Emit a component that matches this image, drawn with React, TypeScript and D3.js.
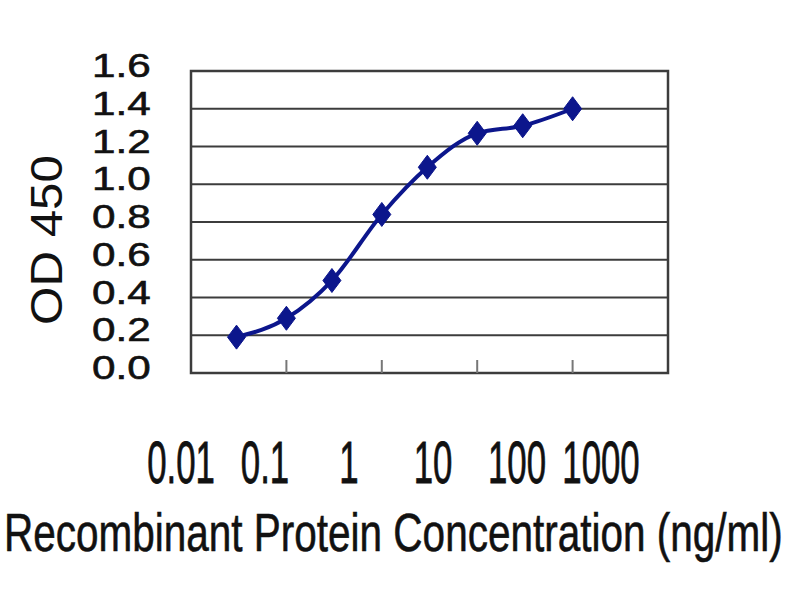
import React from "react";
import * as d3 from "d3";

// ELISA standard curve
const concentrations = [0.03, 0.1, 0.3, 1, 3, 10, 30, 100];
const od450 = [0.19, 0.29, 0.49, 0.84, 1.09, 1.27, 1.31, 1.4];
const yTicks = [0, 0.2, 0.4, 0.6, 0.8, 1.0, 1.2, 1.4, 1.6];
const xTicks = [0.1, 1, 10, 100];
const xTickLabels = [0.01, 0.1, 1, 10, 100, 1000];

const W = 800, H = 600;
const plot = { left: 191, right: 668, top: 71, bottom: 373 };
const font = "'Liberation Sans', Arial, sans-serif";
const navy = "#0c168c";
const grid = "#3c3c3c";

const App = () => {
    const x = d3.scaleLog().domain([0.01, 1000]).range([plot.left, plot.right]);
    const y = d3.scaleLinear().domain([0, 1.6]).range([plot.bottom, plot.top]);
    // the tick label row below the plot is spread on its own log scale
    const xl = d3.scaleLog().domain([0.01, 1000]).range([181, 601]);

    const pts = concentrations.map((c, i) => [x(c), y(od450[i])] as [number, number]);
    const line = d3.line().curve(d3.curveMonotoneX)(pts) || "";

    const diamond = (cx, cy) => `M${cx},${cy - 12}L${cx + 9},${cy}L${cx},${cy + 12}L${cx - 9},${cy}Z`;

    return (
        <svg width={W} height={H} style={{ position: "absolute", left: 0, top: 0, background: "#fff" }}>
            <rect x={plot.left} y={plot.top} width={plot.right - plot.left} height={plot.bottom - plot.top} fill="#fff" />
            {yTicks.map((t) => (
                <line key={"g" + t} x1={plot.left} x2={plot.right} y1={y(t)} y2={y(t)} stroke={grid} strokeWidth={2} />
            ))}
            <rect x={plot.left} y={plot.top} width={plot.right - plot.left} height={plot.bottom - plot.top}
                fill="none" stroke={grid} strokeWidth={2.5} />
            {xTicks.map((t) => (
                <line key={"t" + t} x1={x(t)} x2={x(t)} y1={plot.bottom} y2={plot.bottom - 13} stroke="#777" strokeWidth={2} />
            ))}

            <path d={line} fill="none" stroke={navy} strokeWidth={4} />
            {pts.map(([cx, cy], i) => (
                <path key={"p" + i} d={diamond(cx, cy)} fill={navy} stroke={navy} strokeWidth={1} />
            ))}

            {yTicks.map((t) => (
                <text key={"yl" + t} transform={`translate(92,${y(t) + 6}) scale(1.28,1)`} fontFamily={font} fontSize={33}
                    fill="#111" stroke="#111" strokeWidth={0.6}>
                    {t.toFixed(1)}
                </text>
            ))}

            {xTickLabels.map((t) => (
                <text key={"xl" + t} transform={`translate(${xl(t)},483) scale(0.58,1)`} textAnchor="middle"
                    fontFamily={font} fontSize={60} fill="#111" stroke="#111" strokeWidth={0.8}>
                    {String(t)}
                </text>
            ))}

            <text transform="translate(62,240) rotate(-90) scale(1.12,1)" textAnchor="middle" fontFamily={font} fontSize={44}
                fill="#111">
                OD 450
            </text>
            <text transform="translate(4,551) scale(0.75,1)" fontFamily={font} fontSize={54}
                fill="#111" stroke="#111" strokeWidth={0.6}>
                Recombinant Protein Concentration (ng/ml)
            </text>
        </svg>
    );
};

export default App;
